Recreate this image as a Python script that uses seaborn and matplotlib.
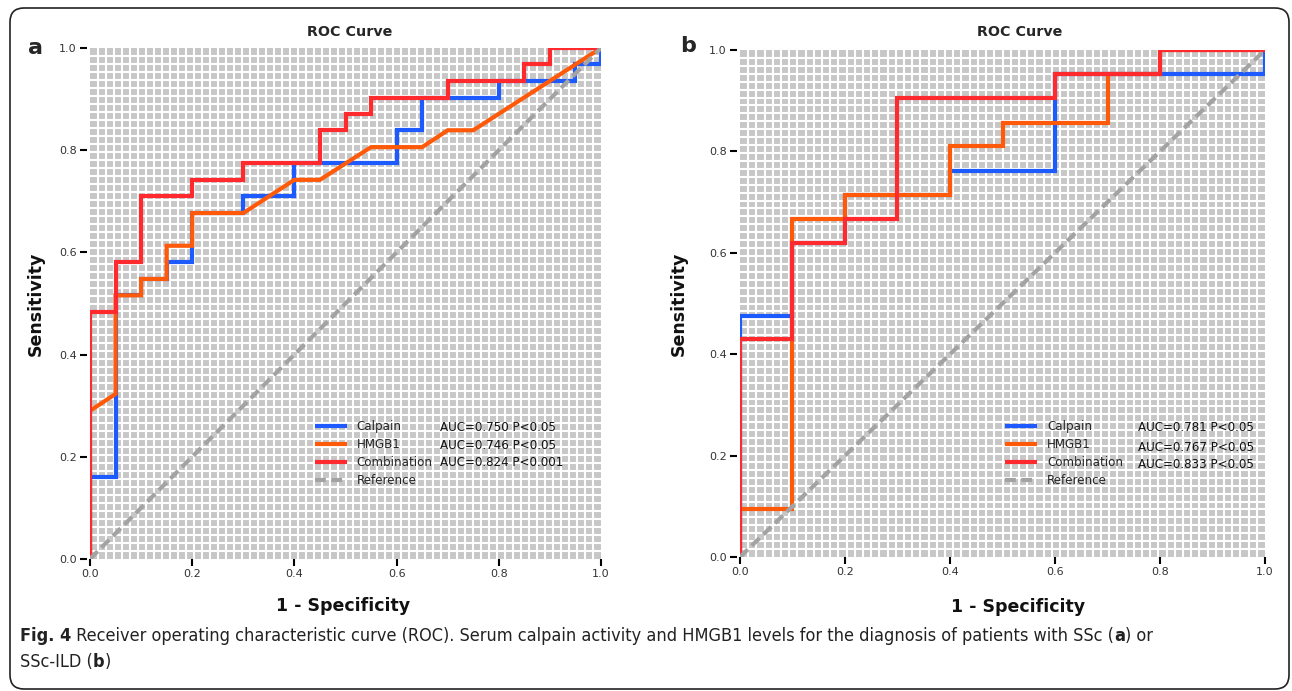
import matplotlib
matplotlib.use("Agg")
import numpy as np
import pandas as pd
import seaborn as sns
import matplotlib.pyplot as plt
from matplotlib.patches import FancyBboxPatch
from matplotlib import font_manager

# ---------------- data (ROC vertices) ----------------
# Panel a (SSc)
a_calpain_fpr = [0, 0, 0.05, 0.05, 0.10, 0.10, 0.15, 0.15, 0.20, 0.20, 0.30, 0.30, 0.40, 0.40,
                 0.60, 0.60, 0.65, 0.65, 0.80, 0.80, 0.95, 0.95, 1.0, 1.0]
a_calpain_tpr = [0, 0.161, 0.161, 0.516, 0.516, 0.548, 0.548, 0.581, 0.581, 0.677, 0.677, 0.710,
                 0.710, 0.774, 0.774, 0.839, 0.839, 0.903, 0.903, 0.935, 0.935, 0.968, 0.968, 1.0]
a_hmgb1_fpr = [0, 0, 0.05, 0.05, 0.10, 0.10, 0.15, 0.15, 0.20, 0.20, 0.30, 0.40, 0.45, 0.55,
               0.65, 0.70, 0.75, 1.0]
a_hmgb1_tpr = [0, 0.290, 0.323, 0.516, 0.516, 0.548, 0.548, 0.613, 0.613, 0.677, 0.677, 0.742,
               0.742, 0.806, 0.806, 0.839, 0.839, 1.0]
a_comb_fpr = [0, 0, 0.05, 0.05, 0.10, 0.10, 0.20, 0.20, 0.30, 0.30, 0.45, 0.45, 0.50, 0.50,
              0.55, 0.55, 0.70, 0.70, 0.85, 0.85, 0.90, 0.90, 1.0]
a_comb_tpr = [0, 0.484, 0.484, 0.581, 0.581, 0.710, 0.710, 0.742, 0.742, 0.774, 0.774, 0.839,
              0.839, 0.871, 0.871, 0.903, 0.903, 0.935, 0.935, 0.968, 0.968, 1.0, 1.0]
a_auc = ["AUC=0.750 P<0.05", "AUC=0.746 P<0.05", "AUC=0.824 P<0.001"]

# Panel b (SSc-ILD)
b_calpain_fpr = [0, 0, 0.1, 0.1, 0.2, 0.2, 0.4, 0.4, 0.6, 0.6, 1.0, 1.0]
b_calpain_tpr = [0, 0.476, 0.476, 0.619, 0.619, 0.714, 0.714, 0.762, 0.762, 0.952, 0.952, 1.0]
b_hmgb1_fpr = [0, 0, 0.1, 0.1, 0.2, 0.2, 0.4, 0.4, 0.5, 0.5, 0.7, 0.7, 0.8, 0.8, 1.0]
b_hmgb1_tpr = [0, 0.095, 0.095, 0.667, 0.667, 0.714, 0.714, 0.810, 0.810, 0.857, 0.857, 0.952,
               0.952, 1.0, 1.0]
b_comb_fpr = [0, 0, 0.1, 0.1, 0.2, 0.2, 0.3, 0.3, 0.6, 0.6, 0.8, 0.8, 1.0]
b_comb_tpr = [0, 0.429, 0.429, 0.619, 0.619, 0.667, 0.667, 0.905, 0.905, 0.952, 0.952, 1.0, 1.0]
b_auc = ["AUC=0.781 P<0.05", "AUC=0.767 P<0.05", "AUC=0.833 P<0.05"]

ref_x = [0, 1]
ref_y = [0, 1]

series_names = ["Calpain", "HMGB1", "Combination", "Reference"]
tick_vals = [0.0, 0.2, 0.4, 0.6, 0.8, 1.0]
tick_labels = ["0.0", "0.2", "0.4", "0.6", "0.8", "1.0"]

# ---------------- style ----------------
sns.set_theme(style="white")
plt.rcParams["font.family"] = ["DejaVu Sans"]

W, H = 1292, 691
fig = plt.figure(figsize=(W / 100, H / 100), dpi=100)

COL = {"Calpain": "#1d5bff", "HMGB1": "#ff5a0a", "Combination": "#ff2a2e", "Reference": "#a3a3a3"}
LW = 3.0
LEG_FS = 8.6


def px_axes(left, top, right, bottom):
    return fig.add_axes([left / W, 1 - bottom / H, (right - left) / W, (bottom - top) / H])


def draw_panel(ax, curves, aucs, leg_x, leg_top, auc_x, auc_rows, ylab_x, xlab_x, xlab_y):
    ax.set_facecolor("#c7c7c7")
    for name, (fx, ty) in zip(series_names[:3], curves):
        df = pd.DataFrame({"fpr": fx, "tpr": ty})
        sns.lineplot(data=df, x="fpr", y="tpr", sort=False, estimator=None, color=COL[name],
                     lw=LW, ax=ax, label=name, solid_joinstyle="miter", solid_capstyle="butt")
    dref = pd.DataFrame({"fpr": ref_x, "tpr": ref_y})
    sns.lineplot(data=dref, x="fpr", y="tpr", sort=False, estimator=None, color=COL["Reference"],
                 lw=LW, ax=ax, label="Reference", linestyle="--")
    ax.lines[-1].set_dashes((2.6, 1.3))

    ax.set_xlim(0, 1)
    ax.set_ylim(0, 1)
    ax.set_xticks(tick_vals)
    ax.set_xticklabels(tick_labels)
    ax.set_yticks(tick_vals)
    ax.set_yticklabels(tick_labels)
    minor = np.linspace(0, 1, 65)
    ax.set_xticks(minor, minor=True)
    ax.set_yticks(minor, minor=True)
    ax.grid(False, which="major")
    ax.grid(True, which="minor", color="white", lw=1.5)
    ax.set_axisbelow(True)
    for s in ax.spines.values():
        s.set_visible(False)
    ax.spines["left"].set_position(("outward", 2.5))
    ax.tick_params(which="major", direction="out", length=5, width=1.5, color="black",
                   labelsize=8.0, labelcolor="#333333", left=True, bottom=True, pad=2)
    ax.tick_params(which="minor", length=0, left=False, bottom=False)

    ax.set_xlabel("1 - Specificity", fontsize=12.5, fontweight="bold", color="#111111")
    ax.set_ylabel("Sensitivity", fontsize=12.5, fontweight="bold", color="#111111")
    ax.yaxis.set_label_coords(ylab_x, 0.5)
    ax.xaxis.set_label_coords(xlab_x, xlab_y)

    handles = ax.get_lines()[:4]
    ax.legend(handles, series_names, loc="upper left", bbox_to_anchor=(leg_x, leg_top),
              frameon=False, fontsize=LEG_FS, handlelength=2.7, handletextpad=0.8,
              labelspacing=0.42, borderpad=0, borderaxespad=0)
    for txt, yr in zip(aucs, auc_rows):
        ax.text(auc_x, yr, txt, transform=ax.transAxes, fontsize=LEG_FS, va="center", ha="left",
                color="#111111")


# panel a
ax_a = px_axes(90, 48, 601, 559)
draw_panel(ax_a,
           [(a_calpain_fpr, a_calpain_tpr), (a_hmgb1_fpr, a_hmgb1_tpr), (a_comb_fpr, a_comb_tpr)],
           a_auc, leg_x=0.44, leg_top=0.272, auc_x=0.685,
           auc_rows=[0.258, 0.223, 0.188], ylab_x=-0.088, xlab_x=0.495, xlab_y=-0.074)
# panel b
ax_b = px_axes(740, 50, 1265, 557)
draw_panel(ax_b,
           [(b_calpain_fpr, b_calpain_tpr), (b_hmgb1_fpr, b_hmgb1_tpr), (b_comb_fpr, b_comb_tpr)],
           b_auc, leg_x=0.505, leg_top=0.270, auc_x=0.758,
           auc_rows=[0.256, 0.215, 0.183], ylab_x=-0.100, xlab_x=0.53, xlab_y=-0.080)

# titles and panel letters
fig.text(350 / W, 1 - 32 / H, "ROC Curve", fontsize=10.3, fontweight="bold", ha="center", va="center")
fig.text(1020 / W, 1 - 32 / H, "ROC Curve", fontsize=10.3, fontweight="bold", ha="center", va="center")
fig.text(28 / W, 1 - 48 / H, "a", fontsize=16, fontweight="bold", ha="left", va="center")
fig.text(680 / W, 1 - 46 / H, "b", fontsize=16, fontweight="bold", ha="left", va="center")

# figure frame (rounded)
frame = FancyBboxPatch((0.10, 0.02), 12.79, 6.81, boxstyle="round,pad=0,rounding_size=0.14",
                       transform=fig.dpi_scale_trans, fill=False, edgecolor="#222222", lw=1.2)
fig.add_artist(frame)

# caption font: prefer a condensed face if one is installed
cap_family = ["Open Sans", "DejaVu Sans"]
cap_stretch = "normal"
try:
    fp = font_manager.FontProperties(family="DejaVu Sans", stretch="condensed")
    path = font_manager.findfont(fp, fallback_to_default=False)
    if "ondensed" in path:
        cap_family = ["DejaVu Sans"]
        cap_stretch = "condensed"
except Exception:
    pass

line1 = [("Fig. 4", True),
         (" Receiver operating characteristic curve (ROC). Serum calpain activity and HMGB1 levels "
          "for the diagnosis of patients with SSc (", False),
         ("a", True), (") or", False)]
line2 = [("SSc-ILD (", False), ("b", True), (")", False)]

renderer = fig.canvas.get_renderer()


def measure(parts, fs):
    tot = 0
    for txt, bold in parts:
        t = fig.text(0, 0, txt, fontsize=fs, fontweight="bold" if bold else "normal",
                     family=cap_family, fontstretch=cap_stretch)
        tot += t.get_window_extent(renderer).width
        t.remove()
    return tot


fs0 = 10.5
w0 = measure(line1, fs0)
fs = min(fs0 * (1242 / w0), 13.0)


def rich(parts, x_px, y_px):
    x = x_px
    for txt, bold in parts:
        t = fig.text(x / W, 1 - y_px / H, txt, fontsize=fs, fontweight="bold" if bold else "normal",
                     family=cap_family, fontstretch=cap_stretch, ha="left", va="center",
                     color="#222222")
        x += t.get_window_extent(renderer).width


rich(line1, 20, 636)
rich(line2, 20, 662)

fig.savefig("out.png", dpi=100)
